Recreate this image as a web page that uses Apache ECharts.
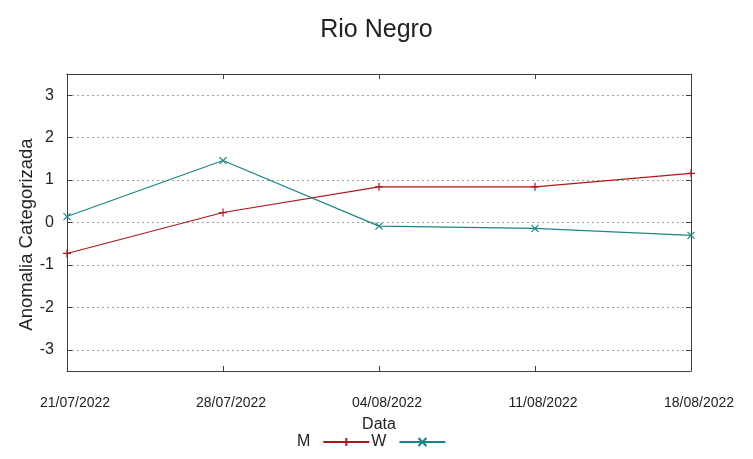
<!DOCTYPE html>
<html><head><meta charset="utf-8">
<script src="https://cdn.jsdelivr.net/npm/echarts@6/dist/echarts.min.js"></script>
<style>html,body{margin:0;padding:0;background:#fff}#c{width:753px;height:459px}</style>
</head><body><div id="c"></div>
<script>
const categories = ['21/07/2022','28/07/2022','04/08/2022','11/08/2022','18/08/2022'];
const seriesM = [-0.73, 0.235, 0.84, 0.84, 1.16];
const seriesW = [0.14, 1.46, -0.085, -0.14, -0.305];
const yTickLabels = [-3,-2,-1,0,1,2,3];

const RED = '#b0161c', TEAL = '#1a8585', FONT = '"Liberation Sans", Arial, sans-serif';
const plusPath = 'path://M0,5L10,5M5,0L5,10';
const crossPath = 'path://M0,0L10,10M10,0L0,10';
const frame = {show:true, onZero:false, lineStyle:{color:'#404040', width:1}};
const tick = {show:true, inside:true, length:5, lineStyle:{color:'#404040'}};

const chart = echarts.init(document.getElementById('c'), null, {renderer:'canvas'});
chart.setOption({
  animation:false,
  backgroundColor:'#fff',
  textStyle:{fontFamily:FONT},
  title:{text:'Rio Negro', left:'center', top:13, textStyle:{fontFamily:FONT, fontSize:25, fontWeight:'normal', color:'#222'}},
  legend:{
    left:292, top:429, itemWidth:46, itemHeight:10, itemGap:1, align:'right',
    textStyle:{fontFamily:FONT, fontSize:16, color:'#222', padding:[0,8,0,0]},
    data:['M','W']
  },
  grid:{left:67, right:62, top:74, bottom:88},
  xAxis:[{
    type:'category', data:categories, boundaryGap:false, position:'bottom',
    axisLine:frame, axisTick:tick,
    axisLabel:{fontFamily:FONT, fontSize:14, color:'#222', margin:25, padding:[0,0,0,16]},
    name:'Data', nameLocation:'middle', nameGap:46,
    nameTextStyle:{fontFamily:FONT, fontSize:16, color:'#222'},
    splitLine:{show:false}
  },{
    type:'category', data:categories, boundaryGap:false, position:'top',
    axisLine:frame, axisTick:tick,
    axisLabel:{show:false}, splitLine:{show:false}
  }],
  yAxis:[{
    type:'value', min:-3.5, max:3.5, splitNumber:7, position:'left',
    axisLine:frame, axisTick:tick,
    axisLabel:{fontFamily:FONT, fontSize:16, color:'#222', margin:13,
      formatter:v => yTickLabels.includes(v) ? String(v) : ''},
    splitLine:{show:true, lineStyle:{color:'#a0a0a0', type:[2,3], width:1}},
    name:'Anomalia Categorizada', nameLocation:'middle', nameGap:31, nameMoveOverlap:false,
    nameTextStyle:{fontFamily:FONT, fontSize:18.5, color:'#222', padding:[0,24,0,0]}
  },{
    type:'value', min:-3.5, max:3.5, splitNumber:7, position:'right',
    axisLine:frame, axisTick:tick,
    axisLabel:{show:false}, splitLine:{show:false}
  }],
  series:[{
    name:'M', type:'line', data:seriesM, xAxisIndex:0, yAxisIndex:0,
    symbol:plusPath, symbolSize:8,
    lineStyle:{color:RED, width:1.2},
    itemStyle:{color:RED, borderColor:RED, borderWidth:1.2}
  },{
    name:'W', type:'line', data:seriesW, xAxisIndex:0, yAxisIndex:0,
    symbol:crossPath, symbolSize:7,
    lineStyle:{color:TEAL, width:1.2},
    itemStyle:{color:TEAL, borderColor:TEAL, borderWidth:1.2}
  }]
});
</script></body></html>
